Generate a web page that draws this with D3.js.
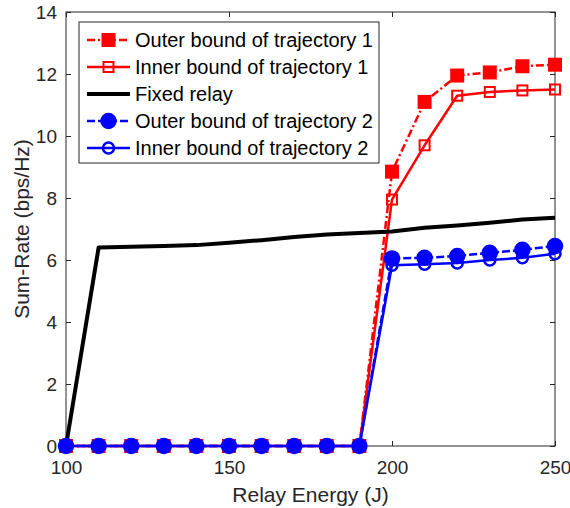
<!DOCTYPE html>
<html>
<head>
<meta charset="utf-8">
<script src="https://cdn.jsdelivr.net/npm/d3@7"></script>
<style>
  body { margin: 0; background: #fff; }
  svg { font-family: "Liberation Sans", Arial, Helvetica, sans-serif; }
</style>
</head>
<body>
<svg width="570" height="508"></svg>
<script>
// data
const energy = [100, 110, 120, 130, 140, 150, 160, 170, 180, 190, 200, 210, 220, 230, 240, 250];
const outer1 = [0, 0, 0, 0, 0, 0, 0, 0, 0, 0, 8.85, 11.1, 11.95, 12.05, 12.25, 12.3];
const inner1 = [0, 0, 0, 0, 0, 0, 0, 0, 0, 0, 7.95, 9.7, 11.3, 11.42, 11.47, 11.5];
const fixedRelay = [0, 6.4, 6.43, 6.45, 6.48, 6.56, 6.64, 6.74, 6.82, 6.87, 6.92, 7.04, 7.11, 7.2, 7.31, 7.36];
const outer2 = [0, 0, 0, 0, 0, 0, 0, 0, 0, 0, 6.05, 6.07, 6.13, 6.23, 6.33, 6.45];
const inner2 = [0, 0, 0, 0, 0, 0, 0, 0, 0, 0, 5.83, 5.86, 5.9, 6.0, 6.07, 6.2];
const xTicks = [100, 150, 200, 250];
const yTicks = [0, 2, 4, 6, 8, 10, 12, 14];

const series = [
    {name: "Outer bound of trajectory 1", values: outer1, color: "#ff0000", width: 2.5, dash: "8,3,2,3", marker: "square", fill: true},
    {name: "Inner bound of trajectory 1", values: inner1, color: "#ff0000", width: 2.5, dash: null, marker: "square", fill: false},
    {name: "Fixed relay", values: fixedRelay, color: "#000000", width: 4, dash: null, marker: null, fill: false},
    {name: "Outer bound of trajectory 2", values: outer2, color: "#0000ff", width: 2.5, dash: "8,3", marker: "circle", fill: true},
    {name: "Inner bound of trajectory 2", values: inner2, color: "#0000ff", width: 2.5, dash: null, marker: "circle", fill: false}
];

const margin = {top: 12, right: 15, bottom: 62, left: 66},
    plotWidth = 570 - margin.left - margin.right,
    plotHeight = 508 - margin.top - margin.bottom;

const svg = d3.select("svg");
const g = svg.append("g")
    .attr("transform", `translate(${margin.left}, ${margin.top})`);

const x = d3.scaleLinear().domain([100, 250]).range([0, plotWidth]);
const y = d3.scaleLinear().domain([0, 14]).range([plotHeight, 0]);

const axisColor = "#262626";

// axes (ticks inward, box all round)
const styleAxis = sel => {
    sel.select(".domain").remove();
    sel.selectAll("line").attr("stroke", axisColor);
    sel.selectAll("text").attr("fill", axisColor).attr("font-size", "19px");
};

g.append("g")
    .attr("transform", `translate(0, ${plotHeight})`)
    .call(d3.axisBottom(x).tickValues(xTicks).tickSizeInner(-5).tickSizeOuter(0).tickPadding(15))
    .call(styleAxis);
g.append("g")
    .call(d3.axisTop(x).tickValues(xTicks).tickSizeInner(-5).tickSizeOuter(0).tickFormat(""))
    .call(styleAxis);
g.append("g")
    .call(d3.axisLeft(y).tickValues(yTicks).tickSizeInner(-5).tickSizeOuter(0).tickPadding(9))
    .call(styleAxis);
g.append("g")
    .attr("transform", `translate(${plotWidth}, 0)`)
    .call(d3.axisRight(y).tickValues(yTicks).tickSizeInner(-5).tickSizeOuter(0).tickFormat(""))
    .call(styleAxis);

g.append("rect")
    .attr("width", plotWidth)
    .attr("height", plotHeight)
    .attr("fill", "none")
    .attr("stroke", axisColor)
    .attr("stroke-width", 1);

// axis labels
g.append("text")
    .attr("x", plotWidth / 2)
    .attr("y", plotHeight + 56)
    .attr("text-anchor", "middle")
    .attr("font-size", "21px")
    .attr("fill", axisColor)
    .text("Relay Energy (J)");

g.append("text")
    .attr("x", -plotHeight / 2)
    .attr("y", -37)
    .attr("text-anchor", "middle")
    .attr("transform", "rotate(-90)")
    .attr("font-size", "21px")
    .attr("fill", axisColor)
    .text("Sum-Rate (bps/Hz)");

// lines
const line = d3.line()
    .x((d, i) => x(energy[i]))
    .y(d => y(d));

function drawMarker(sel, s, cx, cy) {
    if (s.marker === "square") {
        const size = s.fill ? 12 : 10;
        sel.append("rect")
            .attr("x", cx - size / 2)
            .attr("y", cy - size / 2)
            .attr("width", size)
            .attr("height", size)
            .attr("fill", s.fill ? s.color : "none")
            .attr("stroke", s.color)
            .attr("stroke-width", 2);
    } else if (s.marker === "circle") {
        sel.append("circle")
            .attr("cx", cx)
            .attr("cy", cy)
            .attr("r", s.fill ? 7 : 5.5)
            .attr("fill", s.fill ? s.color : "none")
            .attr("stroke", s.color)
            .attr("stroke-width", 2.5);
    }
}

series.forEach(s => {
    const sg = g.append("g");
    sg.append("path")
        .datum(s.values)
        .attr("d", line)
        .attr("fill", "none")
        .attr("stroke", s.color)
        .attr("stroke-width", s.width)
        .attr("stroke-dasharray", s.dash)
        .attr("stroke-linejoin", "round");
    if (s.marker) {
        s.values.forEach((v, i) => drawMarker(sg, s, x(energy[i]), y(v)));
    }
});

// legend
const legend = g.append("g")
    .attr("transform", "translate(13, 10)");
legend.append("rect")
    .attr("width", 300)
    .attr("height", 141)
    .attr("fill", "#fff")
    .attr("stroke", axisColor)
    .attr("stroke-width", 1);

series.forEach((s, i) => {
    const ly = 18 + i * 27;
    const item = legend.append("g");
    item.append("line")
        .attr("x1", 8).attr("x2", 51)
        .attr("y1", ly).attr("y2", ly)
        .attr("stroke", s.color)
        .attr("stroke-width", s.width)
        .attr("stroke-dasharray", s.dash);
    if (s.marker) drawMarker(item, s, 29.5, ly);
    item.append("text")
        .attr("x", 56)
        .attr("y", ly)
        .attr("dy", "0.35em")
        .attr("font-size", "20px")
        .attr("fill", "#000")
        .text(s.name);
});
</script>
</body>
</html>
